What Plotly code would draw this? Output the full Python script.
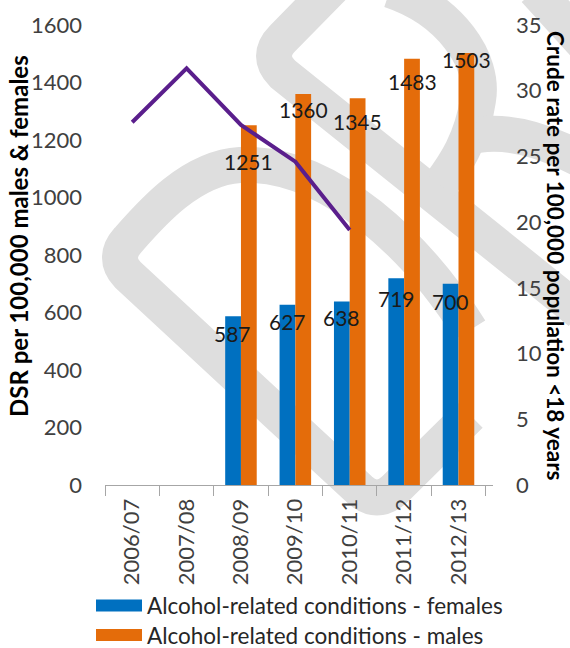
import plotly.graph_objects as go

# ---------------- data ----------------
years = ["2006/07", "2007/08", "2008/09", "2009/10", "2010/11", "2011/12", "2012/13"]
females = [None, None, 587, 627, 638, 719, 700]
males = [None, None, 1251, 1360, 1345, 1483, 1503]
crude_rate = [27.6, 31.7, 27.4, 24.6, 19.4, None, None]

female_name = "Alcohol-related conditions - females"
male_name = "Alcohol-related conditions - males"
left_title = "DSR per 100,000 males & females"
right_title = "Crude rate per 100,000 population <18 years"

# label offsets (px below bar top) -- style only
female_label_drop = [0, 0, 17, 17, 16, 20, 18]
male_label_drop = [0, 0, 36, 15, 23, 23, 7]

BLUE = "#0070C0"
ORANGE = "#E46C0A"
PURPLE = "#5A1E8C"
FONT = "Lato, 'Open Sans', sans-serif"
W, H = 570, 648
L, R, T, B = 105, 77, 25, 163
PW, PH = W - L - R, H - T - B

fig = go.Figure()
fig.add_trace(go.Bar(x=years, y=females, name=female_name, marker_color=BLUE,
                     marker_line_width=0, showlegend=False))
fig.add_trace(go.Bar(x=years, y=males, name=male_name, marker_color=ORANGE,
                     marker_line_width=0, showlegend=False))
fig.add_trace(go.Scatter(x=years, y=crude_rate, yaxis="y2", mode="lines",
                         line=dict(color=PURPLE, width=4), showlegend=False,
                         connectgaps=False))

# ---------------- watermark (decorative) ----------------
def px2paper(x, y):
    return (x - L) / PW, (H - B - y) / PH

def path(cmds):
    out = []
    for c, pts in cmds:
        s = c
        for (x, y) in pts:
            px, py = px2paper(x, y)
            s += f" {px:.4f},{py:.4f}"
        out.append(s)
    return " ".join(out)

wm_paths = [
    [("M", [(470, 330)]), ("C", [(420, 250), (330, 160), (240, 165)]),
     ("C", [(190, 168), (150, 215), (128, 240)]), ("Q", [(112, 258), (128, 275)]),
     ("L", [(360, 490)]), ("Q", [(377, 505), (394, 490)]), ("L", [(470, 415)])],
    [("M", [(335, -15)]), ("L", [(283, 38)]), ("Q", [(265, 56), (283, 74)]),
     ("L", [(580, 312)])],
    [("M", [(390, -10)]), ("C", [(450, 10), (485, 60), (478, 100)]),
     ("C", [(472, 140), (455, 165), (440, 185)])],
    [("M", [(478, 135)]), ("C", [(510, 130), (545, 140), (585, 162)])],
    [("M", [(535, -10)]), ("L", [(585, 45)])],
]
shapes = []
for p in wm_paths:
    shapes.append(dict(type="path", xref="paper", yref="paper", path=path(p),
                       line=dict(color="#DEDEDE", width=36), layer="below"))

# ---------------- custom legend ----------------
annotations = []
for name, col, yc in [(female_name, BLUE, 605.5), (male_name, ORANGE, 635)]:
    x0, y0 = px2paper(96, yc - 6)
    x1, y1 = px2paper(142, yc + 6)
    shapes.append(dict(type="rect", xref="paper", yref="paper", x0=x0, x1=x1,
                       y0=y1, y1=y0, fillcolor=col, line_width=0))
    tx, ty = px2paper(146, yc)
    annotations.append(dict(xref="paper", yref="paper", x=tx, y=ty, text=name,
                            showarrow=False, xanchor="left", yanchor="middle",
                            borderpad=0,
                            font=dict(family=FONT, size=22.5, color="#262626")))

# ---------------- data labels ----------------
for i, yr in enumerate(years):
    if females[i] is not None:
        annotations.append(dict(x=yr, y=females[i], xref="x", yref="y",
                                text=str(females[i]), showarrow=False,
                                xshift=-8, yshift=-female_label_drop[i],
                                yanchor="middle",
                                font=dict(family=FONT, size=21, color="#1a1a1a")))
    if males[i] is not None:
        annotations.append(dict(x=yr, y=males[i], xref="x", yref="y",
                                text=str(males[i]), showarrow=False,
                                xshift=8, yshift=-male_label_drop[i],
                                yanchor="middle",
                                font=dict(family=FONT, size=21, color="#1a1a1a")))

# ---------------- axis titles ----------------
lx, ly = px2paper(18, 236)
annotations.append(dict(xref="paper", yref="paper", x=lx, y=ly, text=left_title,
                        showarrow=False, textangle=-90, xanchor="center",
                        yanchor="middle", borderpad=0,
                        font=dict(family=FONT, size=24, color="#000000", weight="bold")))
rx, ry = px2paper(556, 256)
annotations.append(dict(xref="paper", yref="paper", x=rx, y=ry, text=right_title,
                        showarrow=False, textangle=90, xanchor="center",
                        yanchor="middle", borderpad=0,
                        font=dict(family=FONT, size=22.5, color="#000000", weight="bold")))

tickfont = dict(family=FONT, size=22, color="#404040")
fig.update_layout(
    width=W, height=H,
    margin=dict(l=L, r=R, t=T, b=B, autoexpand=False),
    paper_bgcolor="white", plot_bgcolor="rgba(0,0,0,0)",
    barmode="group", bargap=0.42, bargroupgap=0,
    xaxis=dict(type="category", categoryorder="array", categoryarray=years,
               showline=True, linecolor="#A6A6A6", linewidth=1,
               ticks="outside", tickson="boundaries", ticklen=10,
               tickcolor="#A6A6A6", tickangle=-90, tickfont=tickfont,
               ticklabelstandoff=4, showgrid=False, zeroline=False),
    yaxis=dict(range=[0, 1600], dtick=200, showgrid=False, zeroline=False,
               showline=False, ticks="", tickfont=tickfont, ticklabelstandoff=22),
    yaxis2=dict(range=[0, 35], dtick=5, overlaying="y", side="right",
                showgrid=False, zeroline=False, showline=False, ticks="",
                tickfont=tickfont, ticklabelstandoff=22),
    shapes=shapes, annotations=annotations, showlegend=False,
)

fig.write_html("out.html", config={"displayModeBar": False},
               post_script="document.body.style.margin='0px';document.body.style.padding='0px';")
